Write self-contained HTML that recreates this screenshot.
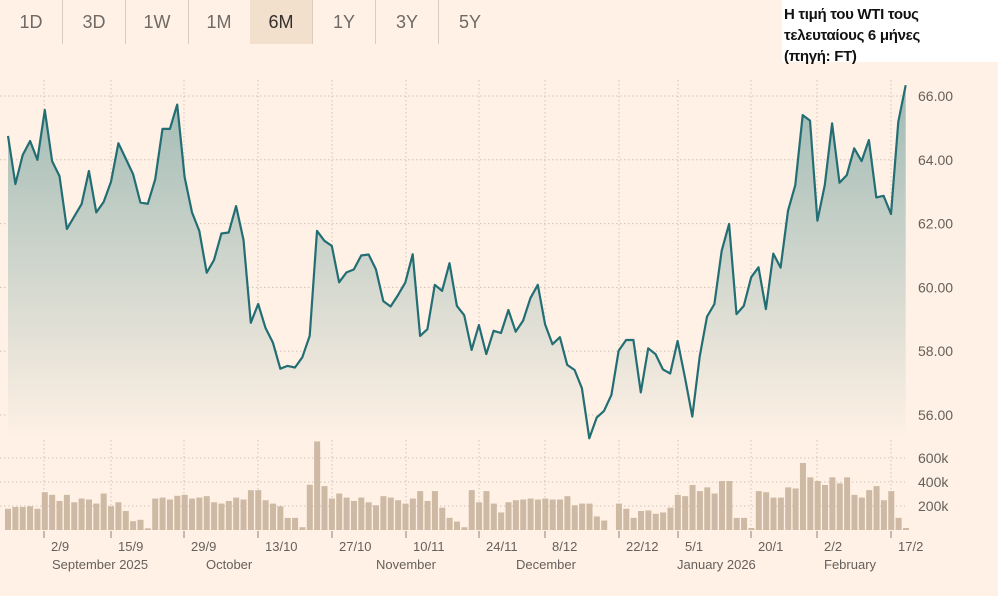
<!DOCTYPE html>
<html><head><meta charset="utf-8"><style>
html,body{margin:0;padding:0;background:#fff1e5;}
body{width:998px;height:596px;overflow:hidden;position:relative;font-family:"Liberation Sans","DejaVu Sans",sans-serif;}
.btn{position:absolute;top:0;height:44px;width:62px;line-height:44px;text-align:center;font-size:18px;color:#6f6a66;border-right:1px solid #d9ccc1;}
.sel{background:#f2dfcc;color:#33302e;}
#title{position:absolute;left:782px;top:0;width:216px;height:62px;background:#fff;font-weight:bold;font-size:15px;line-height:21px;padding:4px 0 0 2px;box-sizing:border-box;color:#111;letter-spacing:-0.3px;white-space:nowrap;}
svg{position:absolute;left:0;top:0;}
</style></head><body>
<div class="btn" style="left:0">1D</div>
<div class="btn" style="left:63px">3D</div>
<div class="btn" style="left:126px">1W</div>
<div class="btn" style="left:188px">1M</div>
<div class="btn sel" style="left:250px">6M</div>
<div class="btn" style="left:313px">1Y</div>
<div class="btn" style="left:376px">3Y</div>
<div class="btn" style="left:439px;border-right:none">5Y</div>
<div id="title">Η τιμή του WTI τους<br>τελευταίους 6 μήνες<br>(πηγή: FT)</div>
<svg id="chart" width="998" height="596">
<defs><linearGradient id="g" x1="0" y1="0" x2="0" y2="1">
<stop offset="0" stop-color="#9fbab4"/><stop offset="1" stop-color="#fff1e5"/></linearGradient></defs>
</svg>
<script>
const prices=[64.75,63.24,64.15,64.59,64.0,65.56,63.96,63.49,61.83,62.22,62.61,63.65,62.35,62.68,63.31,64.52,64.04,63.55,62.66,62.62,63.39,64.97,64.97,65.73,63.46,62.35,61.77,60.46,60.86,61.69,61.72,62.55,61.49,58.89,59.48,58.73,58.27,57.45,57.54,57.49,57.81,58.48,61.77,61.46,61.30,60.16,60.47,60.56,61.0,61.03,60.57,59.57,59.40,59.76,60.15,61.04,58.48,58.69,60.08,59.89,60.76,59.42,59.13,58.04,58.82,57.91,58.64,
58.57,59.29,58.61,58.96,59.66,60.08,58.84,58.22,58.44,57.57,57.41,56.84,55.27,55.92,56.13,56.63,58.02,58.35,58.35,56.71,58.09,57.91,57.43,57.30,58.32,57.17,55.95,57.83,59.08,59.48,61.15,61.99,59.16,59.42,60.32,60.63,59.32,61.06,60.62,62.40,63.21,65.40,65.23,62.09,63.21,65.14,63.28,63.52,64.36,63.96,64.62,62.82,62.87,62.30,65.19,66.34];
const volumes=[177,192,192,197,177,315,293,242,293,231,262,254,220,304,197,231,158,73,85,14,262,270,254,285,293,262,270,282,231,220,242,270,254,332,332,248,220,197,101,101,23,377,738,366,262,304,270,242,270,231,206,282,270,248,220,262,324,242,324,186,101,70,23,332,231,324,220,146,231,248,254,262,254,262,254,254,282,206,220,220,113,79,0,220,177,101,158,163,135,146,186,293,282,375,324,355,304,408,408,101,101,17,324,315,270,270,355,346,558,439,408,375,439,389,439,293,270,332,366,248,324,101,17];
const priceTicks=[56,58,60,62,64,66];
const volTicks=[200,400,600];
const dayTicks=["2/9","15/9","29/9","13/10","27/10","10/11","24/11","8/12","22/12","5/1","20/1","2/2","17/2"];
const dayTickPos=[44,111,184,258,332,406,479,545,619,678,751,817,891];
const months=["September 2025","October","November","December","January 2026","February"];
const monthPos=[52,206,376,516,677,824];

const svg=document.getElementById('chart');const NS='http://www.w3.org/2000/svg';
function mk(t,a,parent){const e=document.createElementNS(NS,t);for(const k in a)e.setAttribute(k,a[k]);(parent||svg).appendChild(e);return e;}
const X0=8,X1=905.7;
const xP=i=>X0+i*(X1-X0)/(prices.length-1);
const xV=i=>X0+i*(906-X0)/(volumes.length-1);
const yP=v=>96+(66-v)*31.9;
const yV=v=>530-v*0.12;
const grid='#cfc3b8';
dayTickPos.forEach((x,i)=>{
  const l=mk('line',{x1:x,y1:80,x2:x,y2:530,stroke:grid,'stroke-dasharray':'1.5,2.5','stroke-width':1});
  
  const t=mk('line',{x1:x,y1:531,x2:x,y2:538,stroke:'#8a837e','stroke-width':1});
  
  const tx=mk('text',{x:x+7,y:551,'font-size':13,fill:'#66605c'});tx.textContent=dayTicks[i];
  
});
months.forEach((m,i)=>{const t=mk('text',{x:monthPos[i],y:569,'font-size':13,fill:'#66605c'});t.textContent=m;
  });
priceTicks.forEach(v=>{
  const l=mk('line',{x1:0,y1:yP(v),x2:905,y2:yP(v),stroke:grid,'stroke-dasharray':'1.5,2.5'});
  
  const t=mk('text',{x:918,y:yP(v)+5,'font-size':14,fill:'#66605c'});t.textContent=v.toFixed(2);
  
});
volTicks.forEach(v=>{
  const l=mk('line',{x1:0,y1:yV(v),x2:905,y2:yV(v),stroke:grid,'stroke-dasharray':'1.5,2.5'});
  
  const t=mk('text',{x:918,y:yV(v)+5,'font-size':14,fill:'#66605c'});t.textContent=v+'k';
  
});
let d='';prices.forEach((p,i)=>{d+=(i?'L':'M')+xP(i).toFixed(1)+','+yP(p).toFixed(1);});
const area=mk('path',{d:d+'L'+X1+',440L'+X0+',440Z',fill:'url(#g)'});

volumes.forEach((v,i)=>{if(!v)return;
  const b=mk('rect',{x:xV(i)-3,y:yV(v),width:6,height:v*0.12,fill:'#cdb9a4'});
  
});
const line=mk('path',{d:d,fill:'none',stroke:'#236e74','stroke-width':2.2,'stroke-linejoin':'round'});

</script>
</body></html>
